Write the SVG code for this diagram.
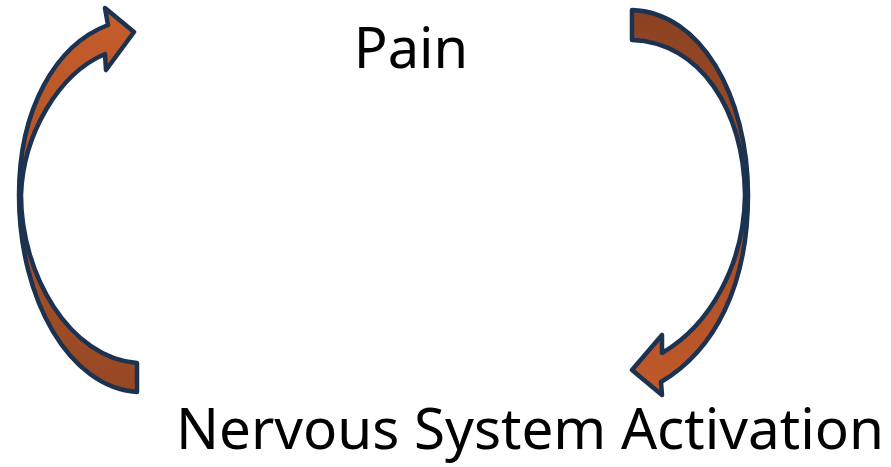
<svg xmlns="http://www.w3.org/2000/svg" width="891" height="467" viewBox="0 0 891 467">
<defs>
<linearGradient id="gL" x1="0" y1="0" x2="0" y2="1">
<stop offset="0" stop-color="#c65d2b"/>
<stop offset="1" stop-color="#954823"/>
</linearGradient>
<linearGradient id="gR" x1="0" y1="0" x2="0" y2="1">
<stop offset="0" stop-color="#8b4222"/>
<stop offset="1" stop-color="#c0592a"/>
</linearGradient>
</defs>
<style>
.arrow{stroke:#1b3350;stroke-width:4.5;stroke-linejoin:round}
.lbl{font-family:"Noto Sans","Open Sans",sans-serif;fill:#000}
</style>
<rect width="891" height="467" fill="#fff"/>
<g id="connectors">
<g id="arrow-left">
<path class="arrow" fill="url(#gL)" d="M137,392 C70,388 19,300 19,195 C19,110 55,45 108,25 L105,8 L134,32 L106,70 L105,54 C58,74 23,135 21,195 C21,275 70,358 137,363 Z"/>
</g>
<g id="arrow-right">
<path class="arrow" fill="url(#gR)" d="M632,10 C700,12 748,95 748,195 C748,285 715,350 661,382 L662,395 L632,370 L662,335 L662,353 C710,325 744,265 745,195 C744,110 700,42 632,40 Z"/>
</g>
</g>
<g id="node-pain">
<text class="lbl" x="411" y="68" font-size="56" text-anchor="middle">Pain</text>
</g>
<g id="node-nsa">
<text class="lbl" x="176" y="449" font-size="56" textLength="708" lengthAdjust="spacingAndGlyphs">Nervous System Activation</text>
</g>
</svg>
